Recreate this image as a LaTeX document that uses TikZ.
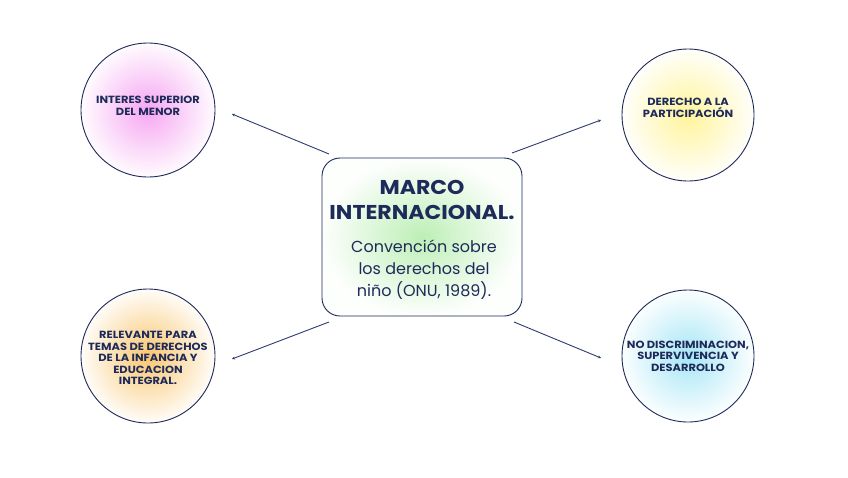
\documentclass[tikz,border=0pt]{standalone}
\usepackage{fontspec}
\setmainfont{Poppins}
\newfontfamily\widefont[FakeStretch=1.1]{Poppins}
\usetikzlibrary{arrows.meta}
\definecolor{navy}{HTML}{1E2A5A}
\definecolor{linec}{HTML}{2F3C70}
\definecolor{pinkc}{HTML}{F6A6F2}
\definecolor{yellc}{HTML}{FFF49A}
\definecolor{orangec}{HTML}{F9C66E}
\definecolor{bluec}{HTML}{A6E6F6}
\definecolor{greenc}{HTML}{BDEFB6}
\tikzset{
  bubble/.style={circle, draw=navy, line width=0.9pt, minimum size=133pt, inner sep=0pt},
  bubtext/.style={text=navy, align=center, font=\widefont\fontsize{10.4}{11.5}\selectfont\bfseries},
  centerbox/.style={rectangle, rounded corners=18pt, draw=navy, line width=0.9pt,
     minimum width=200pt, minimum height=158pt, inner sep=0pt},
  conn/.style={draw=linec, line width=0.9pt, -{Stealth[length=3pt,width=3pt]}},
}
\begin{document}
\begin{tikzpicture}[x=1pt,y=-1pt]
\useasboundingbox (0,0) rectangle (848,477);
\fill[white] (0,0) rectangle (848,477);
% shaded circles
\shade[inner color=pinkc, outer color=white!96!pinkc] (148,110) circle (67);
\shade[inner color=yellc, outer color=white!96!yellc] (688,115) circle (66);
\shade[inner color=orangec, outer color=white!96!orangec] (148,356) circle (67);
\shade[inner color=bluec, outer color=white!96!bluec] (688,356) circle (66);
\shade[rounded corners=18pt, inner color=greenc, outer color=white!97!greenc] (322,158) rectangle (522,316);
% nodes
\node[bubble, minimum size=134pt] (tl) at (148,110) {};
\node[bubble, minimum size=132pt] (tr) at (688,115) {};
\node[bubble, minimum size=134pt] (bl) at (148,356) {};
\node[bubble, minimum size=132pt] (br) at (688,356) {};
\node[centerbox] (c) at (422,237) {};
\node[bubtext] (tlt) at (148,106) {INTERES SUPERIOR\\DEL MENOR};
\node[bubtext] (trt) at (688,108) {DERECHO A LA\\PARTICIPACIÓN};
\node[bubtext] (blt) at (148,358) {RELEVANTE PARA\\TEMAS DE DERECHOS\\DE LA INFANCIA Y\\EDUCACION\\INTEGRAL.};
\node[bubtext] (brt) at (688,356) {NO DISCRIMINACION,\\SUPERVIVENCIA Y\\DESARROLLO};
\node[text=navy, align=center, font=\widefont\fontsize{20}{25}\selectfont\bfseries] (ct) at (422,200) {MARCO\\INTERNACIONAL.};
\node[text=navy, align=center, font=\fontsize{16}{22}\selectfont] (cb) at (424,270) {Convención sobre\\los derechos del\\niño (ONU, 1989).};
% connectors
\coordinate (a1) at (232,114);
\coordinate (a2) at (601,120);
\coordinate (a3) at (232,359);
\coordinate (a4) at (601,358);
\coordinate (s1) at (329,154);
\coordinate (s2) at (512,153);
\coordinate (s3) at (329,322);
\coordinate (s4) at (514,322);
\draw[conn] (s1) -- (a1);
\draw[conn] (s2) -- (a2);
\draw[conn] (s3) -- (a3);
\draw[conn] (s4) -- (a4);
\end{tikzpicture}
\end{document}
